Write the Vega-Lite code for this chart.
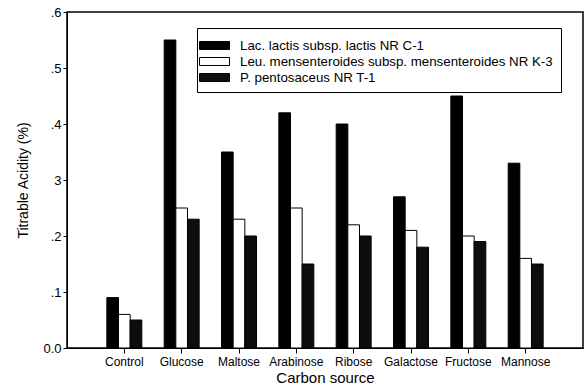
{
  "$schema": "https://vega.github.io/schema/vega-lite/v6.json",
  "width": 516,
  "height": 336,
  "autosize": {"type": "none"},
  "padding": {"left": 67, "top": 12, "right": 1, "bottom": 42},
  "background": "white",
  "config": {
    "font": "Liberation Sans",
    "view": {"stroke": "black", "strokeWidth": 1.5},
    "axis": {"domainColor": "black", "tickColor": "black", "labelColor": "black", "titleColor": "black", "grid": false, "titleFontWeight": "normal"}
  },
  "data": {
    "values": [
      {"source": "Control", "strain": "Lac. lactis subsp. lactis NR C-1", "acidity": 0.09},
      {"source": "Control", "strain": "Leu. mensenteroides subsp. mensenteroides NR K-3", "acidity": 0.06},
      {"source": "Control", "strain": "P. pentosaceus NR T-1", "acidity": 0.05},
      {"source": "Glucose", "strain": "Lac. lactis subsp. lactis NR C-1", "acidity": 0.55},
      {"source": "Glucose", "strain": "Leu. mensenteroides subsp. mensenteroides NR K-3", "acidity": 0.25},
      {"source": "Glucose", "strain": "P. pentosaceus NR T-1", "acidity": 0.23},
      {"source": "Maltose", "strain": "Lac. lactis subsp. lactis NR C-1", "acidity": 0.35},
      {"source": "Maltose", "strain": "Leu. mensenteroides subsp. mensenteroides NR K-3", "acidity": 0.23},
      {"source": "Maltose", "strain": "P. pentosaceus NR T-1", "acidity": 0.20},
      {"source": "Arabinose", "strain": "Lac. lactis subsp. lactis NR C-1", "acidity": 0.42},
      {"source": "Arabinose", "strain": "Leu. mensenteroides subsp. mensenteroides NR K-3", "acidity": 0.25},
      {"source": "Arabinose", "strain": "P. pentosaceus NR T-1", "acidity": 0.15},
      {"source": "Ribose", "strain": "Lac. lactis subsp. lactis NR C-1", "acidity": 0.40},
      {"source": "Ribose", "strain": "Leu. mensenteroides subsp. mensenteroides NR K-3", "acidity": 0.22},
      {"source": "Ribose", "strain": "P. pentosaceus NR T-1", "acidity": 0.20},
      {"source": "Galactose", "strain": "Lac. lactis subsp. lactis NR C-1", "acidity": 0.27},
      {"source": "Galactose", "strain": "Leu. mensenteroides subsp. mensenteroides NR K-3", "acidity": 0.21},
      {"source": "Galactose", "strain": "P. pentosaceus NR T-1", "acidity": 0.18},
      {"source": "Fructose", "strain": "Lac. lactis subsp. lactis NR C-1", "acidity": 0.45},
      {"source": "Fructose", "strain": "Leu. mensenteroides subsp. mensenteroides NR K-3", "acidity": 0.20},
      {"source": "Fructose", "strain": "P. pentosaceus NR T-1", "acidity": 0.19},
      {"source": "Mannose", "strain": "Lac. lactis subsp. lactis NR C-1", "acidity": 0.33},
      {"source": "Mannose", "strain": "Leu. mensenteroides subsp. mensenteroides NR K-3", "acidity": 0.16},
      {"source": "Mannose", "strain": "P. pentosaceus NR T-1", "acidity": 0.15}
    ]
  },
  "mark": {"type": "bar", "stroke": "black", "strokeWidth": 1},
  "encoding": {
    "x": {
      "field": "source",
      "type": "nominal",
      "sort": ["Control", "Glucose", "Maltose", "Arabinose", "Ribose", "Galactose", "Fructose", "Mannose"],
      "scale": {"paddingInner": 0.39, "paddingOuter": 0.695},
      "axis": {"title": "Carbon source", "titleFontSize": 15, "titlePadding": 3, "labelAngle": 0, "labelFontSize": 12, "labelPadding": 3, "tickSize": 5, "labelOverlap": false}
    },
    "xOffset": {
      "field": "strain",
      "type": "nominal",
      "sort": ["Lac. lactis subsp. lactis NR C-1", "Leu. mensenteroides subsp. mensenteroides NR K-3", "P. pentosaceus NR T-1"],
      "scale": {"paddingInner": 0, "paddingOuter": 0}
    },
    "y": {
      "field": "acidity",
      "type": "quantitative",
      "scale": {"domain": [0, 0.6], "nice": false},
      "axis": {
        "title": "Titrable Acidity (%)",
        "titleFontSize": 14,
        "titlePadding": 12,
        "labelFontSize": 13,
        "tickSize": 4,
        "values": [0, 0.1, 0.2, 0.3, 0.4, 0.5, 0.6],
        "labelExpr": "datum.value == 0 ? '0.0' : (format(datum.value, '.1f') == '0.3' ? '3' : replace(format(datum.value, '.1f'), '0.', '.'))"
      }
    },
    "fill": {
      "field": "strain",
      "type": "nominal",
      "scale": {
        "domain": ["Lac. lactis subsp. lactis NR C-1", "Leu. mensenteroides subsp. mensenteroides NR K-3", "P. pentosaceus NR T-1"],
        "range": ["#000000", "#ffffff", "#0d0d0d"]
      },
      "legend": {
        "title": null,
        "orient": "none",
        "legendX": 130,
        "legendY": 16,
        "strokeColor": "black",
        "padding": 8,
        "labelFontSize": 13.3,
        "labelColor": "black",
        "labelOffset": 16,
        "rowPadding": 0,
        "symbolType": "M-1.667,-0.444H1.667V0.444H-1.667Z",
        "symbolSize": 324,
        "symbolStrokeColor": "black",
        "symbolStrokeWidth": 1,
        "labelLimit": 322
      }
    }
  }
}
